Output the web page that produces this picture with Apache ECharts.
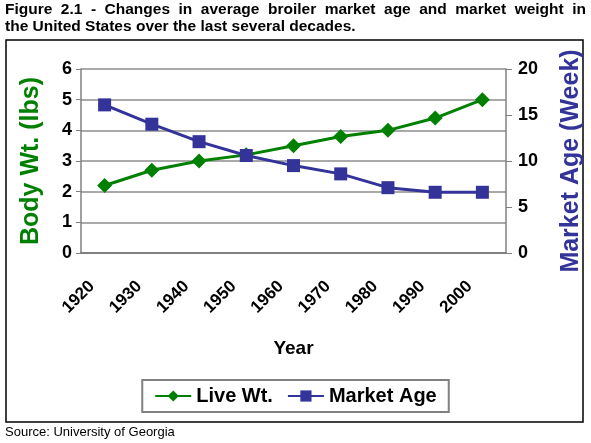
<!DOCTYPE html>
<html>
<head>
<meta charset="utf-8">
<script src="https://cdn.jsdelivr.net/npm/echarts@6/dist/echarts.min.js"></script>
<style>
  html, body { margin: 0; padding: 0; background: #fff; }
  #chart { width: 591px; height: 443px; }
</style>
</head>
<body>
<div id="chart"></div>
<script>
const years = ["1920", "1930", "1940", "1950", "1960", "1970", "1980", "1990", "2000"];
const liveWt = [2.2, 2.7, 3.0, 3.2, 3.5, 3.8, 4.0, 4.4, 5.0];
const marketAge = [16.1, 14.0, 12.1, 10.6, 9.5, 8.6, 7.1, 6.6, 6.6];

const titleLine1 = "Figure 2.1 - Changes in average broiler market age and market weight in";
const titleLine2 = "the United States over the last several decades.";

const green = "#008000";
const blue = "#333399";
const font = "Liberation Sans, Arial, sans-serif";
const titleFont = "bold 15.5px " + font;

// first title line is justified across the full width, like the original
const ctx = document.createElement("canvas").getContext("2d");
ctx.font = titleFont;
const words = titleLine1.split(" ");
const widths = words.map(w => ctx.measureText(w).width);
const gap = (586 - 5 - widths.reduce((a, b) => a + b, 0)) / (words.length - 1);
const titleWords = [];
let x = 5;
words.forEach((w, i) => {
  titleWords.push({ type: "text", x: x, y: 2, style: { text: w, font: titleFont, fill: "#000" } });
  x += widths[i] + gap;
});

const chart = echarts.init(document.getElementById("chart"));
chart.setOption({
  animation: false,
  textStyle: { fontFamily: font },
  graphic: titleWords.concat([
    {
      type: "text", x: 5, y: 19,
      style: { text: titleLine2, font: titleFont, fill: "#000" }
    },
    {
      type: "rect", shape: { x: 6, y: 40, width: 577, height: 382 },
      style: { fill: "none", stroke: "#000", lineWidth: 1.5 }
    },
    {
      type: "text", x: 5, y: 426,
      style: { text: "Source: University of Georgia", font: "13px " + font, fill: "#000" }
    }
  ]),
  grid: { left: 81, right: 85, top: 69, bottom: 190, outerBoundsMode: "none" },
  legend: {
    top: 380, left: "center",
    itemWidth: 36, itemHeight: 14, itemGap: 14,
    padding: [6, 12],
    borderColor: "#808080", borderWidth: 2,
    textStyle: { fontSize: 20, fontWeight: "bold", color: "#000", fontFamily: font },
    data: ["Live Wt.", "Market Age"]
  },
  xAxis: {
    type: "category", data: years, boundaryGap: true,
    name: "Year", nameLocation: "middle", nameGap: 86, nameMoveOverlap: false,
    nameTextStyle: { fontSize: 19, fontWeight: "bold", color: "#000" },
    axisLine: { lineStyle: { color: "#808080", width: 2 } },
    axisTick: { interval: 0, length: 6, lineStyle: { color: "#808080" } },
    axisLabel: {
      rotate: 45, interval: 0, fontSize: 17, fontWeight: "bold", color: "#000",
      margin: 18, padding: [0, 18, 0, 0]
    }
  },
  yAxis: [
    {
      type: "value", min: 0, max: 6, interval: 1,
      name: "Body Wt. (lbs)", nameLocation: "middle", nameGap: 37, nameMoveOverlap: false,
      nameTextStyle: { fontSize: 25, fontWeight: "bold", color: green },
      axisLine: { show: true, lineStyle: { color: "#808080", width: 1.5 } },
      axisTick: { show: true, length: 5, lineStyle: { color: "#808080" } },
      axisLabel: { fontSize: 18, fontWeight: "bold", color: "#000", margin: 9 },
      splitLine: { lineStyle: { color: "#8c8c8c", width: 1.5 } }
    },
    {
      type: "value", min: 0, max: 20, interval: 5, position: "right",
      name: "Market Age (Week)", nameLocation: "middle", nameGap: 53, nameMoveOverlap: false,
      nameTextStyle: { fontSize: 25, fontWeight: "bold", color: blue },
      axisLine: { show: true, lineStyle: { color: "#808080", width: 1.5 } },
      axisTick: { show: true, length: 6, lineStyle: { color: "#808080" } },
      axisLabel: { fontSize: 18, fontWeight: "bold", color: "#000", margin: 12 },
      splitLine: { show: false }
    }
  ],
  series: [
    {
      name: "Live Wt.", type: "line", data: liveWt, yAxisIndex: 0,
      symbol: "diamond", symbolSize: 15,
      itemStyle: { color: green },
      lineStyle: { color: green, width: 3 }
    },
    {
      name: "Market Age", type: "line", data: marketAge, yAxisIndex: 1,
      symbol: "rect", symbolSize: 13,
      itemStyle: { color: blue },
      lineStyle: { color: blue, width: 3 }
    }
  ]
});
</script>
</body>
</html>
